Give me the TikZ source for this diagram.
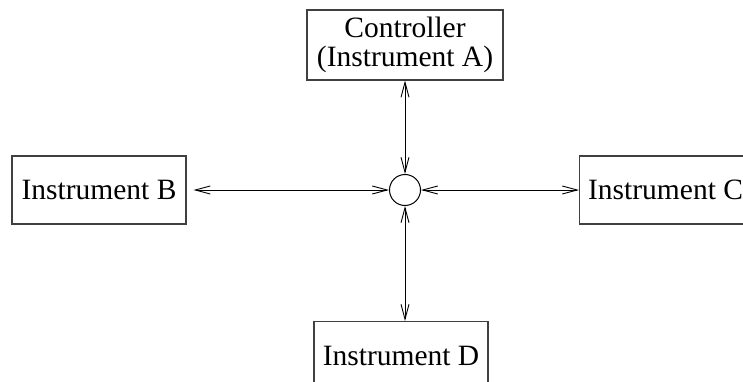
\documentclass[tikz,border=0pt]{standalone}
\usepackage{fontspec}
\setmainfont{Liberation Serif}
\usetikzlibrary{arrows.meta}
\begin{document}
\begin{tikzpicture}[x=1pt,y=-1pt,
  box/.style={draw=black!75,line width=1.1pt,inner sep=0pt,font=\fontsize{29.5}{32}\selectfont},
  hub/.style={draw,circle,line width=1pt,minimum size=31pt,inner sep=0pt},
  link/.style={line width=0.9pt,{Straight Barb[length=15pt,width=8pt,line width=0.9pt]}-{Straight Barb[length=15pt,width=8pt,line width=0.9pt]}}]
\useasboundingbox (0,0) rectangle (743,382);
\clip (0,0) rectangle (743,382);
\node[box,minimum width=196pt,minimum height=70pt,align=center] (a) at (405,45) {\rule{0pt}{12pt}Controller\\[-3pt](Instrument A)};
\node[box,minimum width=174pt,minimum height=68pt] (b) at (99,190) {Instrument B};
\node[box,minimum width=174pt,minimum height=68pt,anchor=west] (c) at (579,190) {\hspace*{-2pt}Instrument C};
\node[box,minimum width=174pt,minimum height=68pt,anchor=north] (d) at (401,321) {Instrument D};
\node[hub] (h) at (405,190) {};
\draw[link] (a.south -| h) -- (h.north);
\draw[link,shorten <=7pt] (b.east) -- (h.west);
\draw[link] (h.east) -- (c.west);
\draw[link] (h.south) -- (d.north -| h);
\end{tikzpicture}
\end{document}
